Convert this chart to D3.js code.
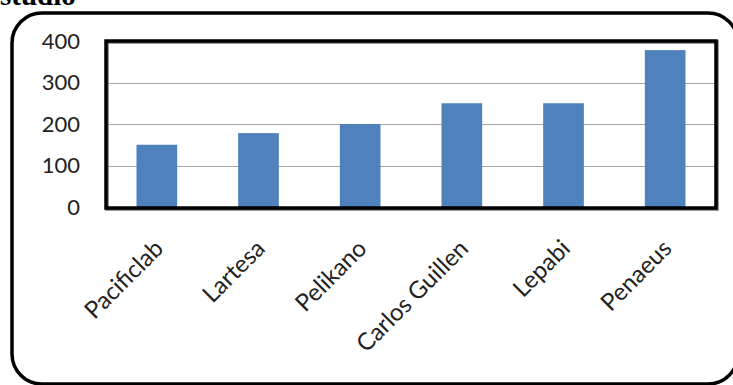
<!DOCTYPE html>
<html>
<head>
<meta charset="utf-8">
<script src="https://cdn.jsdelivr.net/npm/d3@7"></script>
<style>
  html, body { margin: 0; padding: 0; background: #fff; }
  svg { display: block; }
</style>
</head>
<body>
<div id="chart"></div>
<script>
const categories = ["Pacificlab", "Lartesa", "Pelikano", "Carlos Guillen", "Lepabi", "Penaeus"];
const values = [150, 178, 200, 250, 250, 378];
const yTicks = [0, 100, 200, 300, 400];

const width = 733, height = 385;
const plot = { left: 106, top: 41, right: 716, bottom: 208 };

const svg = d3.select("#chart").append("svg")
  .attr("width", width).attr("height", height);

// cut-off heading from the page above
svg.append("text")
  .attr("x", 0).attr("y", 5)
  .attr("font-family", "Liberation Serif")
  .attr("font-weight", "bold").attr("font-size", 29)
  .attr("fill", "#000")
  .text("studio");

// outer rounded frame (right edge runs just off the picture)
svg.append("rect")
  .attr("x", 12).attr("y", 13).attr("width", 726).attr("height", 371)
  .attr("rx", 30).attr("ry", 30)
  .attr("fill", "none").attr("stroke", "#000").attr("stroke-width", 3.5);

const x = d3.scaleBand().domain(categories)
  .range([plot.left, plot.right]).paddingInner(0.6).paddingOuter(0.3);
const y = d3.scaleLinear().domain([0, 400]).range([plot.bottom - 1, plot.top]);

// gridlines
svg.append("g")
  .selectAll("line").data(yTicks.filter(d => d > 0 && d < 400)).join("line")
  .attr("x1", plot.left).attr("x2", plot.right)
  .attr("y1", d => Math.round(y(d)) + 0.5).attr("y2", d => Math.round(y(d)) + 0.5)
  .attr("stroke", "#a6a6a6").attr("stroke-width", 1);

// bars
svg.append("g")
  .selectAll("rect").data(values).join("rect")
  .attr("x", (d, i) => x(categories[i]))
  .attr("y", d => y(d))
  .attr("width", x.bandwidth())
  .attr("height", d => y(0) - y(d))
  .attr("fill", "#4f81bd");

// plot frame (thick, slightly shadowed)
svg.append("rect")
  .attr("x", plot.left + 1).attr("y", plot.top + 1)
  .attr("width", plot.right - plot.left).attr("height", plot.bottom - plot.top)
  .attr("fill", "none").attr("stroke", "#777").attr("stroke-width", 3.5);
svg.append("rect")
  .attr("x", plot.left).attr("y", plot.top)
  .attr("width", plot.right - plot.left).attr("height", plot.bottom - plot.top)
  .attr("fill", "none").attr("stroke", "#000").attr("stroke-width", 3.5);

// y axis labels
const yAxis = svg.append("g")
  .attr("transform", `translate(${plot.left - 26},0)`)
  .call(d3.axisLeft(y).tickValues(yTicks).tickSize(0).tickPadding(0));
yAxis.select(".domain").remove();
yAxis.selectAll("text")
  .attr("font-family", "Lato, 'Open Sans', sans-serif")
  .attr("font-size", 22).attr("fill", "#222");

// x axis labels
const xAxis = svg.append("g")
  .attr("transform", `translate(0,${plot.bottom})`)
  .call(d3.axisBottom(x).tickSize(0).tickPadding(0));
xAxis.select(".domain").remove();
xAxis.selectAll("text")
  .attr("font-family", "Lato, 'Open Sans', sans-serif")
  .attr("font-size", 24).attr("fill", "#222")
  .attr("text-anchor", "end")
  .attr("dy", 0)
  .attr("transform", "translate(8,42) rotate(-45)");
</script>
</body>
</html>
